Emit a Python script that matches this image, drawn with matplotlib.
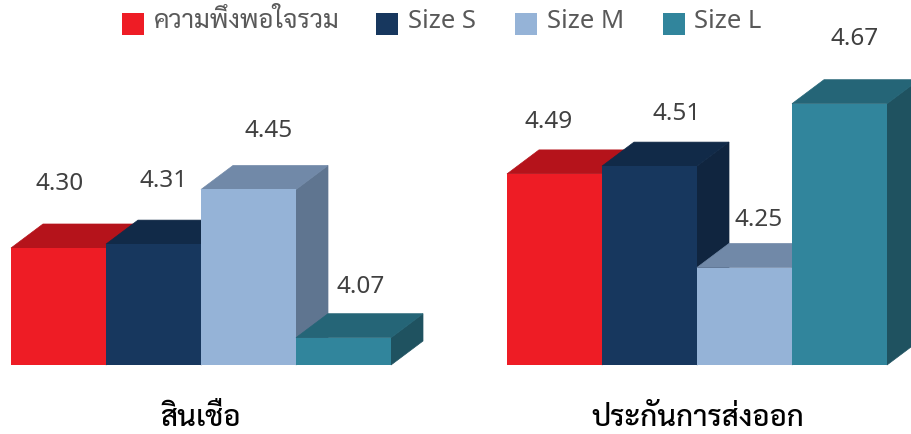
import numpy as np
import matplotlib
matplotlib.use("Agg")
import matplotlib.pyplot as plt
from matplotlib.patches import Polygon, Rectangle

groups = ["สินเชื่อ", "ประกันการส่งออก"]
series = ["ความพึงพอใจรวม", "Size S", "Size M", "Size L"]
loan_values = [4.30, 4.31, 4.45, 4.07]
export_values = [4.49, 4.51, 4.25, 4.67]
colors = ["#ee1c25", "#17375e", "#95b3d7", "#31859c"]
top_colors = ["#b5131b", "#112a48", "#7189a8", "#256577"]
side_colors = ["#b5131b", "#10253f", "#5f7590", "#1f5260"]

W, H = 912, 434
BASE = 4.0
PX_PER_UNIT = 390.0
BAR_W = 95.0
DEPTH_X = 32.0
DEPTH_Y = 24.0 / PX_PER_UNIT

# latin goes to the first family, thai falls through to the next
text_fonts = ["Noto Sans", "Sarabun", "DejaVu Sans"]

fig = plt.figure(figsize=(W / 100, H / 100), dpi=100)
ax = fig.add_axes([0, 0, 1, 1])
ax.set_xlim(0, W)
# baseline sits at pixel row 365
ax.set_ylim(BASE - (H - 365) / PX_PER_UNIT, BASE + 365 / PX_PER_UNIT)
ax.axis("off")


def bar3d(x, val, i):
    ax.add_patch(Polygon([(x + BAR_W, BASE), (x + BAR_W + DEPTH_X, BASE + DEPTH_Y),
                          (x + BAR_W + DEPTH_X, val + DEPTH_Y), (x + BAR_W, val)],
                         fc=side_colors[i], ec=side_colors[i], lw=0.5, zorder=2 + i))
    ax.add_patch(Polygon([(x, val), (x + DEPTH_X, val + DEPTH_Y),
                          (x + BAR_W + DEPTH_X, val + DEPTH_Y), (x + BAR_W, val)],
                         fc=top_colors[i], ec=top_colors[i], lw=0.5, zorder=2 + i))
    ax.bar(x, val - BASE, BAR_W, bottom=BASE, align="edge", color=colors[i], zorder=2 + i)


label_dx = [[48.5, 57.5, 67.5, 64.5], [41.5, 74.5, 61.5, 62.5]]
label_dy = [[64.5, 63.5, 58.5, 50.5], [51.5, 52.5, 47.5, 64.5]]
for g, (start, vals) in enumerate([(11, loan_values), (507, export_values)]):
    for i, v in enumerate(vals):
        x = start + i * BAR_W
        bar3d(x, v, i)
        ax.text(x + label_dx[g][i], v + label_dy[g][i] / PX_PER_UNIT, f"{v:.2f}",
                fontsize=17.5, color="#404040", ha="center", va="center", zorder=10,
                family=text_fonts)

y_group = BASE - (418 - 365) / PX_PER_UNIT
ax.text(200.5, y_group, groups[0], fontsize=21, fontweight=500, ha="center", va="center",
        color="black", family=text_fonts)
ax.text(697.5, y_group, groups[1], fontsize=21, fontweight=500, ha="center", va="center",
        color="black", family=text_fonts)

leg_x = [122, 376, 515, 663]
text_x = [154, 408, 547, 694]
y_leg = BASE + (365 - 24) / PX_PER_UNIT
for i, s in enumerate(series):
    ax.add_patch(Rectangle((leg_x[i], y_leg - 11 / PX_PER_UNIT), 22, 22 / PX_PER_UNIT,
                           fc=colors[i], lw=0))
    ax.text(text_x[i], y_leg + 2 / PX_PER_UNIT, s, fontsize=18.5, color="#595959", va="center",
            family=text_fonts)

fig.savefig("out.png", dpi=100)
